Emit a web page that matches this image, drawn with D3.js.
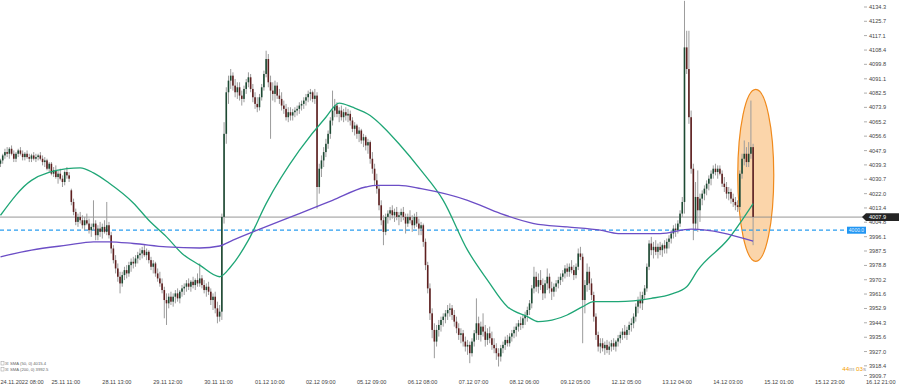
<!DOCTYPE html>
<html>
<head>
<meta charset="utf-8">
<script src="https://cdn.jsdelivr.net/npm/d3@7"></script>
<style>
  body { margin: 0; background: #fff; }
  svg { display: block; font-family: "Liberation Sans", Arial, sans-serif; }
</style>
</head>
<body>
<svg width="900" height="387"></svg>
<script>
// H1 bars, 24.11.2022 08:00 .. 14.12.2022 21:00 — [open, high, low, close]
var candles = [
  // 0
  [4040,4043,4038,4042],[4042,4046,4040,4045],[4045,4049,4043,4047],[4047,4050,4044,4046],[4046,4050,4043,4049],[4049,4051,4045,4046],[4046,4048,4041,4043],[4043,4047,4041,4046],[4046,4049,4044,4048],[4048,4050,4045,4046],
  // 10
  [4046,4048,4042,4044],[4044,4047,4042,4046],[4046,4048,4043,4044],[4044,4046,4041,4043],[4043,4046,4041,4045],[4045,4047,4042,4043],[4043,4046,4041,4044],[4044,4046,4042,4045],[4045,4047,4042,4043],[4043,4045,4039,4041],
  // 20
  [4041,4044,4038,4042],[4042,4043,4036,4037],[4037,4041,4035,4040],[4040,4041,4033,4034],[4034,4038,4032,4036],[4036,4039,4031,4032],[4032,4036,4028,4034],[4034,4037,4030,4031],[4031,4033,4026,4029],[4029,4036,4027,4035],
  // 30
  [4035,4038,4031,4033],[4033,4035,4029,4031],[4024,4025,4015,4017],[4017,4019,4009,4011],[4011,4013,4003,4005],[4005,4010,4002,4008],[4008,4011,4004,4006],[4006,4009,4001,4003],[4003,4008,4000,4006],[4006,4010,4003,4004],
  // 40
  [4004,4007,3998,4000],[4000,4004,3996,4002],[4002,4018,4000,4004],[4004,4006,3994,3997],[3997,4003,3994,4001],[4001,4005,3996,3999],[3999,4004,3995,4002],[4002,4006,3998,3999],[3999,4017,3997,4003],[4003,4005,3995,3997],
  // 50
  [3997,3999,3986,3989],[3989,3991,3980,3982],[3982,3985,3974,3977],[3977,3980,3969,3972],[3972,3975,3962,3968],[3968,3975,3966,3973],[3973,3978,3970,3976],[3976,3979,3971,3974],[3974,3981,3972,3979],[3979,3983,3975,3981],
  // 60
  [3981,3984,3977,3980],[3980,3985,3978,3983],[3983,3987,3980,3985],[3985,3989,3982,3986],[3986,3990,3983,3988],[3988,3991,3984,3985],[3985,3989,3982,3987],[3987,3988,3980,3982],[3982,3984,3976,3978],[3978,3982,3974,3980],
  // 70
  [3980,3981,3972,3974],[3974,3977,3969,3971],[3971,3975,3966,3968],[3968,3971,3962,3964],[3964,3966,3947,3958],[3958,3962,3943,3956],[3956,3962,3953,3960],[3960,3963,3955,3957],[3957,3962,3954,3960],[3960,3964,3956,3962],
  // 80
  [3962,3965,3957,3959],[3959,3964,3956,3963],[3963,3967,3960,3965],[3965,3968,3961,3966],[3966,3970,3963,3968],[3968,3971,3964,3966],[3966,3970,3963,3969],[3969,3972,3965,3967],[3967,3971,3964,3970],[3970,3974,3966,3968],
  // 90
  [3968,3980,3966,3971],[3971,3973,3965,3967],[3967,3970,3962,3964],[3964,3968,3960,3966],[3966,3969,3961,3963],[3963,3965,3955,3958],[3958,3962,3952,3960],[3960,3963,3950,3953],[3953,3957,3944,3948],[3948,3955,3945,3951],
  // 100
  [3951,4010,3946,4008],[4008,4065,4004,4058],[4058,4086,4052,4083],[4083,4093,4076,4090],[4090,4097,4085,4093],[4093,4095,4084,4087],[4087,4091,4080,4083],[4083,4089,4079,4086],[4086,4089,4078,4081],[4081,4084,4075,4079],
  // 110
  [4079,4087,4077,4085],[4085,4091,4082,4089],[4089,4095,4086,4092],[4092,4094,4083,4085],[4085,4088,4077,4080],[4080,4083,4073,4076],[4076,4080,4071,4074],[4074,4082,4072,4080],[4080,4088,4078,4086],[4086,4096,4084,4094],
  // 120
  [4094,4108,4092,4103],[4103,4106,4086,4089],[4089,4093,4055,4084],[4084,4089,4078,4082],[4082,4090,4077,4087],[4087,4089,4079,4081],[4081,4085,4076,4079],[4079,4083,4072,4075],[4075,4078,4070,4073],[4073,4076,4066,4068],
  // 130
  [4068,4074,4065,4071],[4071,4074,4066,4069],[4069,4073,4066,4071],[4071,4074,4068,4072],[4072,4075,4069,4073],[4073,4077,4070,4075],[4075,4078,4072,4076],[4076,4080,4073,4078],[4078,4082,4075,4080],[4080,4084,4077,4082],
  // 140
  [4082,4085,4078,4083],[4083,4084,4077,4079],[4079,4085,4076,4081],[4081,4083,4013,4026],[4026,4040,4022,4037],[4037,4045,4032,4042],[4042,4050,4038,4047],[4047,4055,4044,4052],[4052,4060,4049,4058],[4058,4068,4055,4066],
  // 150
  [4066,4084,4063,4072],[4072,4079,4068,4075],[4075,4077,4068,4070],[4070,4074,4065,4072],[4072,4075,4066,4068],[4068,4073,4065,4071],[4071,4074,4066,4069],[4069,4073,4065,4070],[4070,4072,4063,4066],[4066,4068,4059,4061],
  // 160
  [4061,4065,4057,4063],[4063,4064,4055,4058],[4058,4062,4053,4060],[4060,4061,4052,4054],[4054,4058,4050,4056],[4056,4057,4048,4051],[4051,4055,4046,4053],[4053,4054,4040,4043],[4043,4047,4034,4037],[4037,4040,4027,4030],
  // 170
  [4030,4034,4022,4025],[4025,4027,4012,4015],[4015,4018,4003,4006],[4006,4009,3991,3999],[3999,4010,3997,4008],[4008,4012,4004,4010],[4010,4014,4006,4012],[4012,4015,4007,4009],[4009,4013,4005,4011],[4011,4014,4006,4008],
  // 180
  [4008,4011,4003,4009],[4009,4013,4005,4011],[4011,4014,4006,4008],[4008,4010,3998,4004],[4004,4010,4002,4008],[4008,4012,4004,4006],[4006,4009,3999,4003],[4003,4010,4001,4008],[4008,4011,4002,4004],[4004,4007,3997,4001],
  // 190
  [4001,4005,3997,4003],[4003,4004,3990,3993],[3993,3995,3976,3979],[3979,3981,3962,3965],[3965,3968,3946,3950],[3950,3953,3935,3940],[3940,3944,3923,3933],[3933,3943,3930,3940],[3940,3946,3936,3943],[3943,3948,3939,3946],
  // 200
  [3946,3950,3942,3948],[3948,3952,3944,3950],[3950,3955,3946,3952],[3952,3956,3948,3953],[3953,3955,3946,3949],[3949,3952,3942,3945],[3945,3948,3938,3941],[3941,3944,3934,3937],[3937,3941,3932,3938],[3938,3940,3930,3933],
  // 210
  [3933,3936,3927,3930],[3930,3934,3925,3931],[3931,3933,3920,3926],[3926,3935,3924,3933],[3933,3940,3930,3938],[3938,3959,3934,3944],[3944,3948,3934,3937],[3937,3945,3933,3942],[3942,3950,3936,3939],[3939,3943,3930,3934],
  // 220
  [3934,3941,3931,3938],[3938,3942,3932,3935],[3935,3939,3928,3931],[3931,3935,3926,3929],[3929,3932,3922,3926],[3926,3929,3918,3924],[3924,3931,3921,3929],[3929,3933,3926,3931],[3931,3936,3928,3934],[3934,3937,3930,3932],
  // 230
  [3932,3938,3930,3936],[3936,3940,3933,3938],[3938,3942,3935,3940],[3940,3944,3936,3942],[3942,3946,3939,3944],[3944,3948,3940,3943],[3943,3949,3941,3947],[3947,3951,3943,3949],[3949,3954,3945,3952],[3952,3958,3949,3956],
  // 240
  [3956,3967,3953,3965],[3965,3978,3962,3972],[3972,3975,3963,3966],[3966,3974,3962,3970],[3970,3976,3964,3967],[3967,3971,3958,3962],[3962,3970,3959,3968],[3968,3977,3964,3972],[3972,3974,3962,3965],[3965,3969,3958,3963],
  // 250
  [3963,3968,3960,3966],[3966,3970,3963,3968],[3968,3972,3965,3970],[3970,3974,3967,3972],[3972,3976,3969,3974],[3974,3979,3971,3977],[3977,3980,3972,3975],[3975,3980,3972,3978],[3978,3982,3974,3976],[3976,3979,3970,3973],
  // 260
  [3973,3980,3971,3978],[3978,3989,3976,3986],[3986,3990,3982,3984],[3984,3986,3932,3958],[3958,3970,3950,3967],[3967,3980,3963,3975],[3975,3978,3964,3968],[3968,3971,3958,3961],[3961,3963,3945,3948],[3948,3950,3934,3937],
  // 270
  [3937,3939,3927,3930],[3930,3935,3926,3932],[3932,3935,3927,3929],[3929,3933,3925,3931],[3931,3934,3926,3928],[3928,3933,3925,3930],[3930,3934,3927,3932],[3932,3935,3928,3930],[3930,3934,3927,3933],[3933,3937,3930,3935],
  // 280
  [3935,3939,3932,3937],[3937,3941,3934,3939],[3939,3943,3935,3937],[3937,3942,3934,3940],[3940,3945,3937,3943],[3943,3947,3939,3944],[3944,3950,3941,3948],[3948,3956,3945,3954],[3954,3960,3950,3958],[3958,3963,3953,3956],
  // 290
  [3956,3963,3952,3961],[3961,3967,3958,3965],[3965,3980,3963,3978],[3978,3994,3976,3992],[3992,3996,3985,3988],[3988,3993,3983,3990],[3990,3994,3985,3987],[3987,3992,3983,3990],[3990,3993,3985,3988],[3988,3992,3984,3991],
  // 300
  [3991,3994,3986,3989],[3989,3995,3986,3993],[3993,3997,3989,3995],[3995,4000,3992,3998],[3998,4003,3995,4001],[4001,4004,3996,4000],[4000,4006,3998,4004],[4004,4012,4002,4010],[4010,4020,4008,4017],[4017,4138,4010,4110],
  // 310
  [4110,4120,4094,4097],[4097,4120,4064,4068],[4068,4072,4034,4037],[4037,4040,3994,4004],[4004,4029,4000,4020],[4020,4036,3999,4012],[4012,4022,4005,4019],[4019,4024,4015,4022],[4022,4027,4018,4025],[4025,4030,4021,4028],
  // 320
  [4028,4033,4024,4031],[4031,4036,4027,4034],[4034,4039,4031,4037],[4037,4040,4033,4035],[4035,4039,4031,4037],[4037,4039,4033,4034],[4034,4036,4026,4028],[4028,4032,4023,4026],[4026,4029,4019,4022],[4022,4026,4018,4023],
  // 330
  [4023,4025,4016,4019],[4019,4022,4014,4017],[4017,4020,4012,4015],[4015,4018,4011,4014],[4014,4036,4012,4034],[4034,4046,4031,4043],[4043,4054,4039,4046],[4046,4050,4038,4041],[4041,4053,4038,4046],[4046,4078,4043,4050],
  // 340
  [4050,4052,3991,4008]
];

// moving averages: [bar index, price]
var sma50 = [[0,4009],[14,4030],[30,4037],[36,4037.5],[42,4034.5],[49,4028.4],[60,4016.4],[67,4006],[75,3996],[82,3986],[90,3979],[99,3972],[104,3978],[112,3994],[120,4016],[135,4048],[147,4068],[153,4076.5],[159,4074],[167,4069],[173,4062],[180,4052],[190,4036],[200,4018],[211,3988],[220,3970],[229,3954],[238,3948],[243,3945],[247,3945.4],[256,3949],[263,3954],[268,3957],[279,3957],[294,3959],[303,3961.6],[310,3966],[315,3976],[329,3995],[340,4016]];
var sma200 = [[0,3984],[14,3988],[30,3991],[42,3993],[49,3993],[60,3992],[75,3990],[90,3989.3],[99,3990.5],[105,3994],[116,4000],[135,4010],[150,4018],[165,4026],[170,4027],[180,4027],[190,4025],[211,4018],[226,4010],[241,4004],[256,4002],[271,4000],[279,3998],[298,3998],[312,4000.7],[340,3993.5]];

var timeLabels = ["24.11.2022 08:00","25.11 11:00","28.11 13:00","29.11 12:00","30.11 11:00","01.12 10:00","02.12 09:00","05.12 09:00","06.12 08:00","07.12 07:00","08.12 06:00","09.12 05:00","12.12 05:00","13.12 04:00","14.12 03:00","15.12 01:00","15.12 23:00","16.12 21:00"];
var priceTicks = [4134.3,4125.7,4117.1,4108.4,4099.8,4091.1,4082.5,4073.9,4065.2,4056.6,4047.9,4039.3,4030.7,4022.0,4013.4,4004.8,3996.1,3987.5,3978.8,3970.2,3961.6,3952.9,3944.3,3935.6,3927.0,3918.4,3909.7];

var bidPrice = 4007.9, alertPrice = 4000.0;
var legend = ["SMA (50, 0) 4015.4", "SMA (200, 0) 3992.5"];

var svg = d3.select("svg");

var x = d3.scaleLinear().domain([0, 391]).range([0.5, 866]);
var y = d3.scaleLinear().domain([3909.7, 4134.3]).range([380.3, 7]);

// highlight ellipse around the last bars
svg.append("ellipse")
    .attr("cx", x(341.2)).attr("cy", y(4033))
    .attr("rx", 18).attr("ry", 86)
    .attr("fill", "#fbd5aa")
    .attr("stroke", "#f08a1c")
    .attr("stroke-width", 1.2);

// bid line + alert line
svg.append("line")
    .attr("x1", 0).attr("x2", 866)
    .attr("y1", y(bidPrice)).attr("y2", y(bidPrice))
    .attr("stroke", "#8a8a8a").attr("stroke-width", 0.9);

svg.append("line")
    .attr("x1", 0).attr("x2", 848)
    .attr("y1", y(alertPrice)).attr("y2", y(alertPrice))
    .attr("stroke", "#2a9df0").attr("stroke-width", 1.3)
    .attr("stroke-dasharray", "4,3");

// candles
var bars = svg.append("g");
bars.selectAll("line")
  .data(candles)
  .enter().append("line")
    .attr("x1", function(d, i) { return x(i); })
    .attr("x2", function(d, i) { return x(i); })
    .attr("y1", function(d) { return y(d[1]); })
    .attr("y2", function(d) { return y(d[2]); })
    .attr("stroke", "#9c9c9c")
    .attr("stroke-width", 1);

bars.selectAll("rect")
  .data(candles)
  .enter().append("rect")
    .attr("x", function(d, i) { return x(i) - 0.8; })
    .attr("width", 1.6)
    .attr("y", function(d) { return y(Math.max(d[0], d[3])); })
    .attr("height", function(d) { return Math.max(0.8, Math.abs(y(d[0]) - y(d[3]))); })
    .attr("fill", function(d) { return d[3] >= d[0] ? "#1d4a33" : "#5e1f1f"; });

// moving averages
var line = d3.line()
    .x(function(d) { return x(d[0]); })
    .y(function(d) { return y(d[1]); })
    .curve(d3.curveMonotoneX);

svg.append("path").datum(sma50)
    .attr("d", line)
    .attr("fill", "none")
    .attr("stroke", "#1fa676")
    .attr("stroke-width", 1.3);

svg.append("path").datum(sma200)
    .attr("d", line)
    .attr("fill", "none")
    .attr("stroke", "#6c4ec6")
    .attr("stroke-width", 1.3);

// price axis
var axis = svg.append("g");
priceTicks.forEach(function(v) {
  var ty = Math.min(y(v), 375.5);
  axis.append("line")
      .attr("x1", 864).attr("x2", 867)
      .attr("y1", ty).attr("y2", ty)
      .attr("stroke", "#777").attr("stroke-width", 0.6);
  axis.append("text")
      .attr("x", 869).attr("y", ty + 2)
      .attr("font-size", 5.6)
      .attr("fill", "#444")
      .text(v.toFixed(1));
});

// bid price box
var yb = y(bidPrice);
svg.append("path")
    .attr("d", "M862," + yb + "L866," + (yb - 3.8) + "L899," + (yb - 3.8) + "L899," + (yb + 3.8) + "L866," + (yb + 3.8) + "Z")
    .attr("fill", "#242424");
svg.append("text")
    .attr("x", 869).attr("y", yb + 2)
    .attr("font-size", 5.6)
    .attr("fill", "#fff")
    .text(bidPrice.toFixed(1));

// alert box
var ya = y(alertPrice);
svg.append("rect")
    .attr("x", 847).attr("y", ya - 3.5)
    .attr("width", 19).attr("height", 7)
    .attr("fill", "#2196f3");
svg.append("text")
    .attr("x", 856.5).attr("y", ya + 1.8)
    .attr("text-anchor", "middle")
    .attr("font-size", 5)
    .attr("fill", "#e8f4ff")
    .text(alertPrice.toFixed(1));

// time axis
svg.append("g").selectAll("text")
  .data(timeLabels)
  .enter().append("text")
    .attr("x", function(d, k) { return x(k * 23); })
    .attr("y", 384)
    .attr("font-size", 5.6)
    .attr("fill", "#444")
    .text(function(d) { return d; });

// indicator legend
legend.forEach(function(t, k) {
  var ly = 365 + k * 6;
  svg.append("rect").attr("x", 1).attr("y", ly - 3.5).attr("width", 3).attr("height", 3.5)
      .attr("fill", "none").attr("stroke", "#999").attr("stroke-width", 0.5);
  svg.append("text").attr("x", 5).attr("y", ly).attr("font-size", 4.2).attr("fill", "#888").text("\u2612");
  svg.append("text").attr("x", 10).attr("y", ly).attr("font-size", 4.2).attr("fill", "#666").text(t);
});

// bar countdown
var cd = svg.append("text")
    .attr("x", 866).attr("y", 371)
    .attr("text-anchor", "end")
    .attr("font-size", 6.2);
cd.append("tspan").attr("fill", "#f5a000").text("44");
cd.append("tspan").attr("fill", "#999").text("m ");
cd.append("tspan").attr("fill", "#f5a000").text("03");
cd.append("tspan").attr("fill", "#999").text("s");
</script>
</body>
</html>
